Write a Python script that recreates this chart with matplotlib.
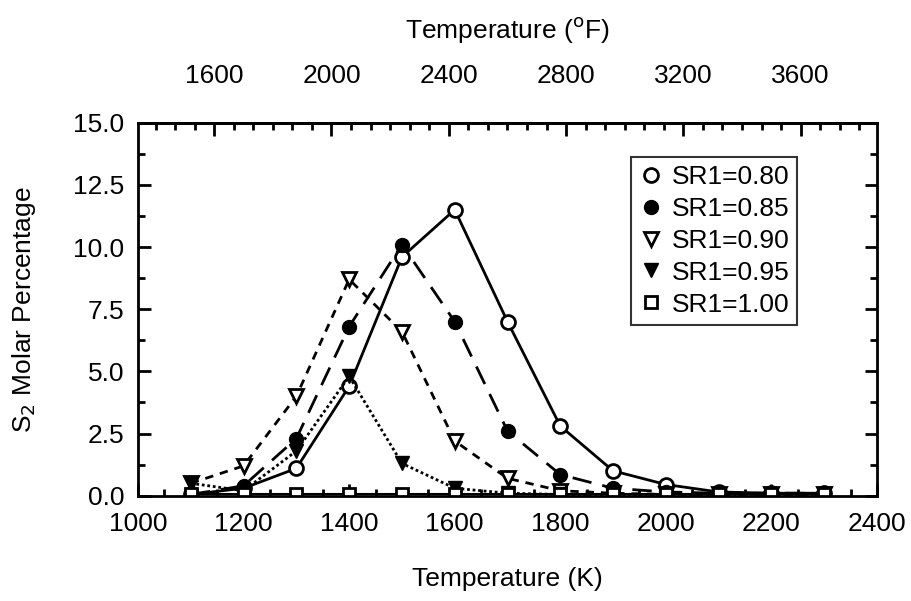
import numpy as np
import matplotlib.pyplot as plt
import matplotlib as mpl
from matplotlib.ticker import MultipleLocator, AutoMinorLocator, FixedLocator

mpl.rcParams.update({'font.family': 'Liberation Sans', 'font.size': 19,
                     'axes.linewidth': 2.0})

# ── Data ──────────────────────────────────────────────────────────────────────
temp_k = [1100, 1200, 1300, 1400, 1500, 1600, 1700, 1800, 1900, 2000, 2100, 2200, 2300]

sr080 = [0.05, 0.3, 1.1, 4.4, 9.6, 11.5, 7.0, 2.8, 1.0, 0.45, 0.15, 0.1, 0.1]
sr085 = [0.05, 0.4, 2.3, 6.8, 10.1, 7.0, 2.6, 0.85, 0.3, 0.15, 0.1, 0.1, 0.1]
sr090 = [0.5, 1.2, 4.0, 8.7, 6.6, 2.2, 0.7, 0.2, 0.1, 0.05, 0.05, 0.05, 0.05]
sr095 = [0.5, 0.2, 1.8, 4.8, 1.3, 0.3, 0.1, 0.05, 0.05, 0.05, 0.05, 0.05, 0.05]
sr100 = [0.05, 0.05, 0.05, 0.05, 0.05, 0.05, 0.05, 0.05, 0.05, 0.05, 0.05, 0.05, 0.05]

labels = ["SR1=0.80", "SR1=0.85", "SR1=0.90", "SR1=0.95", "SR1=1.00"]
f_ticks = [1600, 2000, 2400, 2800, 3200, 3600]

# ── Figure ────────────────────────────────────────────────────────────────────
fig = plt.figure(figsize=(9.11, 6.01), dpi=100)
ax = fig.add_axes([0.1515, 0.1752, 0.8112, 0.6206])

ms = 10
ax.plot(temp_k, sr080, color='black', lw=2, ls='-', marker='o', ms=ms,
        mfc='white', mec='black', mew=2, label=labels[0])
ax.plot(temp_k, sr085, color='black', lw=2, ls=(0, (7, 4)), marker='o', ms=ms,
        mfc='black', mec='black', label=labels[1])
ax.plot(temp_k, sr090, color='black', lw=2, ls=(0, (3, 2.5)), marker='v', ms=ms,
        mfc='white', mec='black', mew=2, label=labels[2])
ax.plot(temp_k, sr095, color='black', lw=2, ls=(0, (1, 1)), marker='v', ms=ms,
        mfc='black', mec='black', label=labels[3])
ax.plot(temp_k, sr100, color='black', lw=1.5, ls='-', marker='s', ms=8,
        mfc='white', mec='black', mew=2, label=labels[4])

ax.set_xlim(1000, 2400)
ax.set_ylim(0, 15)
ax.xaxis.set_major_locator(MultipleLocator(200))
ax.xaxis.set_minor_locator(MultipleLocator(50))
ax.yaxis.set_major_locator(MultipleLocator(2.5))
ax.yaxis.set_minor_locator(MultipleLocator(1.25))
ax.yaxis.set_major_formatter(mpl.ticker.FormatStrFormatter('%.1f'))
ax.tick_params(which='both', direction='in', right=True, top=False, width=2)
ax.tick_params(which='major', length=9)
ax.tick_params(which='minor', length=5)
ax.tick_params(axis='x', which='major', pad=12)
ax.tick_params(axis='y', which='major', pad=10)

ax.set_xlabel("Temperature (K)", labelpad=22)
ax.set_ylabel(r"S$_2$ Molar Percentage", labelpad=25)

# top axis in Fahrenheit
def k2f(k):
    return np.asarray(k) * 1.8 - 459.67

def f2k(f):
    return (np.asarray(f) + 459.67) / 1.8

top = ax.secondary_xaxis('top', functions=(k2f, f2k))
top.xaxis.set_major_locator(FixedLocator(f_ticks))
top.xaxis.set_minor_locator(AutoMinorLocator(6))
top.tick_params(which='both', direction='in', width=2)
top.tick_params(which='major', length=9, pad=25)
top.tick_params(which='minor', length=5)
top.set_xlabel(r"Temperature ($^{\mathrm{o}}$F)", labelpad=19)

leg = ax.legend(loc='upper right', bbox_to_anchor=(0.892, 0.908), borderaxespad=0,
                frameon=True, fancybox=False, edgecolor='black', handlelength=0.9,
                handletextpad=0.34, borderpad=0.3, labelspacing=0.3, fontsize=19)
leg.get_frame().set_linewidth(1.5)
for h in leg.legend_handles:
    h.set_linestyle('None')

fig.savefig("out.png", dpi=100)
